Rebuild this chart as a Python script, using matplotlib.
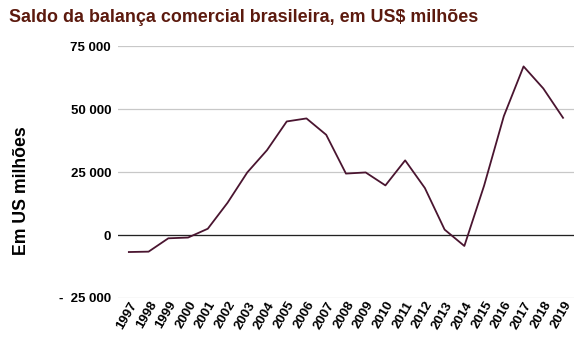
import matplotlib
matplotlib.use("Agg")
import matplotlib.pyplot as plt
from matplotlib.ticker import FuncFormatter

plt.rcParams['font.family'] = ['Liberation Sans', 'DejaVu Sans']

anos = [str(a) for a in range(1997, 2020)]
saldo = [-6750, -6600, -1300, -1000, 2500, 12800, 24850, 33700, 45100, 46300,
         39800, 24400, 24850, 19700, 29650, 18650, 2150, -4350, 19600, 47200,
         66950, 58200, 46550]
yticks = [-25000, 0, 25000, 50000, 75000]


def fmt(v, pos):
    if v < 0:
        return "-  " + f"{abs(int(v)):,}".replace(",", " ")
    return f"{int(v):,}".replace(",", " ")


fig = plt.figure(figsize=(5.85, 3.55), dpi=100)
ax = fig.add_axes([0.2017, 0.1606, 0.7793, 0.7094])

x = list(range(len(anos)))
ax.plot(x, saldo, color="#4a1530", lw=1.3, zorder=3)

ax.set_ylim(-25000, 75000)
ax.set_xlim(-0.55, len(anos) - 0.45)
ax.set_yticks(yticks)
ax.yaxis.set_major_formatter(FuncFormatter(fmt))
ax.grid(axis="y", color="#c8c8c8", lw=0.9)
ax.axhline(0, color="#222222", lw=0.9, zorder=2)
ax.set_axisbelow(True)
for s in ax.spines.values():
    s.set_visible(False)
ax.tick_params(axis="both", length=0, labelsize=9.5)
ax.tick_params(axis="y", pad=5)
ax.tick_params(axis="x", pad=1)
ax.set_xticks(x)
ax.set_xticklabels(anos, rotation=60, ha="right", rotation_mode="anchor", fontweight="bold")
for t in ax.get_yticklabels():
    t.set_fontweight("bold")

fig.text(0.016, 0.952, "Saldo da balança comercial brasileira, em US$ milhões",
         fontsize=12.85, fontweight="bold", color="#5c1a0e", va="center", ha="left")
fig.text(0.036, 0.462, "Em US milhões", rotation=90, fontsize=12.7,
         fontweight="bold", va="center", ha="center")

fig.savefig("out.png", dpi=100)
